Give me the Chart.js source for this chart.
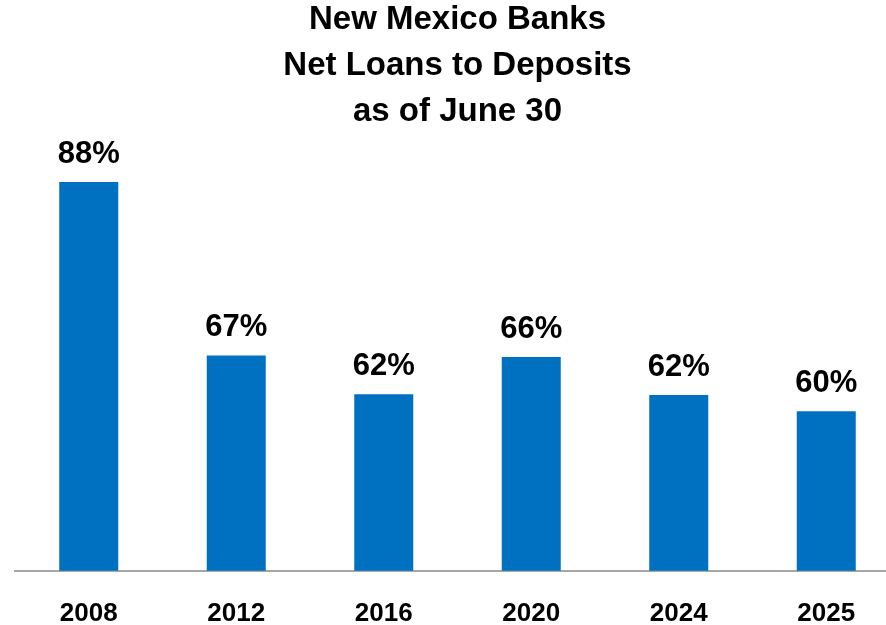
<!DOCTYPE html>
<html>
<head>
<meta charset="utf-8">
<script src="https://cdn.jsdelivr.net/npm/chart.js@4/dist/chart.umd.min.js"></script>
<style>
  html, body { margin: 0; padding: 0; background: #fff; overflow: hidden; width: 886px; height: 625px; }
  #wrap { position: absolute; left: 0; top: 0; width: 915px; height: 656px; }
</style>
</head>
<body>
<div id="wrap"><canvas id="c" width="915" height="656"></canvas></div>
<script>
const titleLines = ['New Mexico Banks', 'Net Loans to Deposits', 'as of June 30'];
const years = ['2008', '2012', '2016', '2020', '2024', '2025'];
const ratios = [88.0, 66.6, 61.8, 66.4, 61.7, 59.7];

const FONT = '"Liberation Sans", Arial, sans-serif';

const valueLabels = {
  id: 'valueLabels',
  afterDatasetsDraw(chart) {
    const ctx = chart.ctx;
    const meta = chart.getDatasetMeta(0);
    ctx.save();
    ctx.font = 'bold 31px ' + FONT;
    ctx.fillStyle = '#000';
    ctx.textAlign = 'center';
    ctx.textBaseline = 'alphabetic';
    meta.data.forEach((bar, i) => {
      ctx.fillText(Math.round(ratios[i]) + '%', bar.x, bar.y - 19.5);
    });
    ctx.restore();
  }
};

new Chart(document.getElementById('c'), {
  type: 'bar',
  data: {
    labels: years,
    datasets: [{
      data: ratios,
      backgroundColor: '#0070C0',
      borderWidth: 0,
      barPercentage: 0.4,
      categoryPercentage: 1.0
    }]
  },
  options: {
    responsive: false,
    animation: false,
    devicePixelRatio: 1,
    layout: { padding: { left: 15, right: 15, top: 0, bottom: 0 } },
    plugins: {
      legend: { display: false },
      tooltip: { enabled: false },
      title: {
        display: true,
        text: titleLines,
        color: '#000',
        font: { family: FONT, size: 33, weight: 'bold', lineHeight: '46px' },
        padding: { top: -3, bottom: 5 }
      }
    },
    scales: {
      x: {
        grid: { display: true, drawOnChartArea: false, drawTicks: false },
        border: { display: true, color: '#A6A6A6', width: 2 },
        ticks: {
          color: '#000',
          padding: 27,
          font: { family: FONT, size: 26, weight: 'bold' }
        }
      },
      y: {
        display: false,
        min: 40,
        max: 93.2
      }
    }
  },
  plugins: [valueLabels]
});
</script>
</body>
</html>
